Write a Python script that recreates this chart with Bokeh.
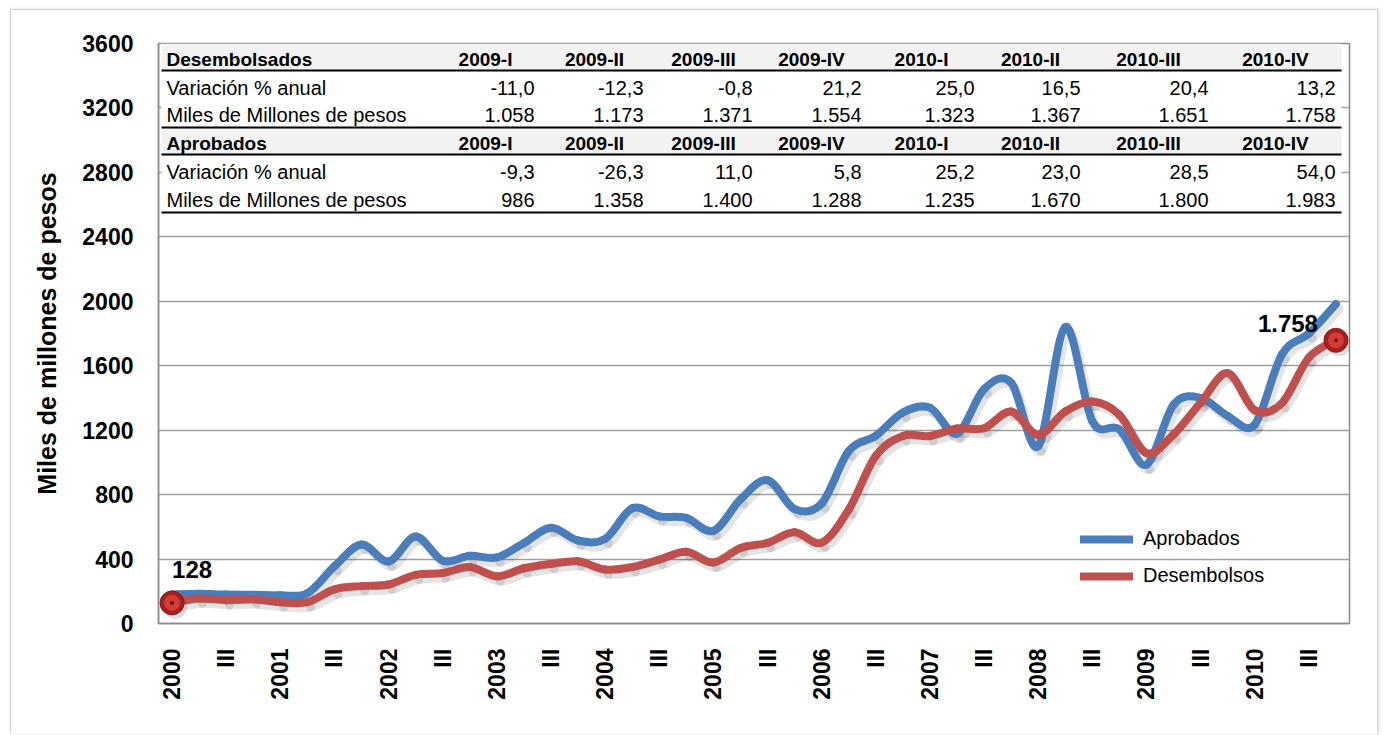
import math
from bokeh.plotting import figure
from bokeh.models import Range1d, FixedTicker, Legend, LegendItem, ColumnDataSource
from bokeh.core.properties import value
from bokeh.embed import file_html
from bokeh.resources import INLINE

# ---------------- data ----------------
x_tick_labels = ["2000", "III", "2001", "III", "2002", "III", "2003", "III",
                 "2004", "III", "2005", "III", "2006", "III", "2007", "III",
                 "2008", "III", "2009", "III", "2010", "III"]

# quarterly values 2000-I ... 2010-IV (miles de millones de pesos)
aprobados = [180, 185, 180, 178, 175, 188, 355, 490, 385, 540, 390, 420,
             410, 500, 595, 515, 525, 715, 665, 655, 575, 770, 890, 710,
             745, 1070, 1165, 1310, 1340, 1180, 1455, 1495, 1100, 1840, 1255, 1205,
             986, 1358, 1400, 1288, 1235, 1670, 1800, 1983]
desembolsos = [128, 155, 145, 150, 132, 132, 212, 232, 242, 302, 313, 350,
               293, 343, 370, 386, 335, 350, 396, 445, 378, 469, 500, 566,
               502, 707, 1040, 1164, 1164, 1210, 1212, 1316, 1171, 1316, 1378, 1295,
               1058, 1173, 1371, 1554, 1323, 1367, 1651, 1758]

y_ticks = [0, 400, 800, 1200, 1600, 2000, 2400, 2800, 3200, 3600]

table_periods = ["2009-I", "2009-II", "2009-III", "2009-IV",
                 "2010-I", "2010-II", "2010-III", "2010-IV"]
desemb_var = [-11.0, -12.3, -0.8, 21.2, 25.0, 16.5, 20.4, 13.2]
desemb_miles = [1058, 1173, 1371, 1554, 1323, 1367, 1651, 1758]
aprob_var = [-9.3, -26.3, 11.0, 5.8, 25.2, 23.0, 28.5, 54.0]
aprob_miles = [986, 1358, 1400, 1288, 1235, 1670, 1800, 1983]

# ---------------- helpers ----------------
FONT = "Liberation Sans"
BLUE = "#4A7EBB"
RED = "#C0504D"


def fmt_var(v):
    return f"{v:.1f}".replace(".", ",")


def fmt_miles(v):
    return f"{v:,}".replace(",", ".")


def smooth(xs, ys):
    n = len(xs)
    d = dict(x0=[], y0=[], x1=[], y1=[], cx0=[], cy0=[], cx1=[], cy1=[])
    for i in range(n - 1):
        a = max(i - 1, 0)
        b = min(i + 2, n - 1)
        d["x0"].append(xs[i]); d["y0"].append(ys[i])
        d["x1"].append(xs[i + 1]); d["y1"].append(ys[i + 1])
        d["cx0"].append(xs[i] + (xs[i + 1] - xs[a]) / 6.0)
        d["cy0"].append(ys[i] + (ys[i + 1] - ys[a]) / 6.0)
        d["cx1"].append(xs[i + 1] - (xs[b] - xs[i]) / 6.0)
        d["cy1"].append(ys[i + 1] - (ys[b] - ys[i]) / 6.0)
    return d


n = len(aprobados)
xs = list(range(n))
XR = (-0.5, n - 0.5)
YR = (y_ticks[0], y_ticks[-1])

# page-pixel geometry of the plot frame (used only to place the table)
FL, FR, FT, FB = 158, 1349, 43, 623
OX, OY = 11, 10   # page position of the figure canvas (margin + 1px border)


def dx(px):
    return XR[0] + (px - FL) / (FR - FL) * (XR[1] - XR[0])


def dy(py):
    return YR[0] + (FB - py) / (FB - FT) * (YR[1] - YR[0])


W, H = 1368, 725
p = figure(width=W, height=H, output_backend="svg", toolbar_location=None,
           x_range=Range1d(*XR), y_range=Range1d(*YR),
           min_border_left=FL - OX, min_border_top=FT - OY,
           min_border_right=W - (FR - OX), min_border_bottom=H - (FB - OY))
p.background_fill_color = "white"
p.border_fill_color = "white"
p.outline_line_color = "#8C8C8C"
p.outline_line_width = 1.5
p.styles = {"border-top": "1px solid #D6D6D6", "border-left": "1px solid #D6D6D6",
            "border-right": "1px solid #D6D6D6", "border-bottom": "1px solid white",
            "margin-left": "10px", "margin-top": "9px",
            "box-shadow": "1px 0px 3px rgba(0,0,0,0.15)"}

# axes
p.xaxis.ticker = FixedTicker(ticks=[2 * i for i in range(len(x_tick_labels))])
p.xaxis.major_label_overrides = {2 * i: t for i, t in enumerate(x_tick_labels)}
p.xaxis.major_label_orientation = math.pi / 2
p.xaxis.major_label_text_font = FONT
p.xaxis.major_label_text_font_style = "bold"
p.xaxis.major_label_text_font_size = "23px"
p.xaxis.major_label_text_color = "black"
p.xaxis.major_label_standoff = 19
p.xaxis.major_tick_line_color = None
p.xaxis.minor_tick_line_color = None
p.xaxis.axis_line_color = "#8C8C8C"
p.xaxis.axis_line_width = 1.5

p.yaxis.ticker = FixedTicker(ticks=y_ticks)
p.yaxis.major_label_text_font = FONT
p.yaxis.major_label_text_font_style = "bold"
p.yaxis.major_label_text_font_size = "23px"
p.yaxis.major_label_text_color = "black"
p.yaxis.major_label_standoff = 19
p.yaxis.major_tick_line_color = None
p.yaxis.minor_tick_line_color = None
p.yaxis.axis_line_color = "#8C8C8C"
p.yaxis.axis_line_width = 1.5
p.yaxis.axis_label = "Miles de millones de pesos"
p.yaxis.axis_label_text_font = FONT
p.yaxis.axis_label_text_font_style = "bold"
p.yaxis.axis_label_text_font_size = "25px"
p.yaxis.axis_label_text_color = "black"
p.yaxis.axis_label_standoff = 18

p.xgrid.visible = False
p.ygrid.ticker = FixedTicker(ticks=y_ticks)
p.ygrid.grid_line_color = "#A0A0A0"
p.ygrid.grid_line_width = 1.5

# ---------------- lines ----------------
sh_dx, sh_dy = 0.12, -30
for ys in (aprobados, desembolsos):
    d = smooth([x + sh_dx for x in xs], [y + sh_dy for y in ys])
    p.bezier(source=ColumnDataSource(d), x0="x0", y0="y0", x1="x1", y1="y1",
             cx0="cx0", cy0="cy0", cx1="cx1", cy1="cy1",
             line_color="black", line_alpha=0.10, line_width=9, line_cap="round")

r_ap = p.bezier(source=ColumnDataSource(smooth(xs, aprobados)),
                x0="x0", y0="y0", x1="x1", y1="y1", cx0="cx0", cy0="cy0", cx1="cx1", cy1="cy1",
                line_color=BLUE, line_width=8, line_cap="round")
r_de = p.bezier(source=ColumnDataSource(smooth(xs, desembolsos)),
                x0="x0", y0="y0", x1="x1", y1="y1", cx0="cx0", cy0="cy0", cx1="cx1", cy1="cy1",
                line_color=RED, line_width=8, line_cap="round")

# end point balls
bx = [xs[0], xs[-1]]
by = [desembolsos[0], desembolsos[-1]]
p.scatter([x + 0.12 for x in bx], [y - 25 for y in by], size=24, fill_color="black",
          fill_alpha=0.12, line_color=None)
p.scatter(bx, by, size=24, fill_color="#A51F1C", line_color="#8A1715", line_width=1)
p.scatter(bx, by, size=16, fill_color="#D4403A", fill_alpha=0.9, line_color=None)
p.scatter(bx, by, size=4, fill_color="#7A1212", line_color=None)

p.text(x=[xs[0]], y=[desembolsos[0]], text=[fmt_miles(desembolsos[0])],
       x_offset=0, y_offset=-33, text_font=value(FONT), text_font_style="bold",
       text_font_size="24px", text_align="left", text_baseline="middle", text_color="black")
p.text(x=[xs[-1]], y=[desembolsos[-1]], text=[fmt_miles(desembolsos[-1])],
       x_offset=-18, y_offset=-17, text_font=value(FONT), text_font_style="bold",
       text_font_size="24px", text_align="right", text_baseline="middle", text_color="black")

# ---------------- legend ----------------
legend = Legend(items=[LegendItem(label="Aprobados", renderers=[r_ap]),
                       LegendItem(label="Desembolsos", renderers=[r_de])],
                location=(1080 - FL, FB - 587), orientation="vertical",
                border_line_color=None, background_fill_alpha=0,
                label_text_font=FONT, label_text_font_size="20px", label_text_color="black",
                glyph_width=53, glyph_height=20, label_height=20, spacing=14,
                padding=0, margin=0, label_standoff=10)
p.add_layout(legend)

# ---------------- table ----------------
TL, TR = 161, 1341
lines_y = [42, 70, 127, 154, 212]
p.quad(left=[dx(TL)], right=[dx(TR)], top=[dy(42)], bottom=[dy(212)],
       fill_color="white", line_color=None)
p.quad(left=[dx(TL)] * 2, right=[dx(TR)] * 2, top=[dy(42), dy(127)], bottom=[dy(70), dy(154)],
       fill_color="#F2F2F2", line_color=None)
p.segment(x0=[dx(TL)] * len(lines_y), x1=[dx(TR)] * len(lines_y),
          y0=[dy(v) for v in lines_y], y1=[dy(v) for v in lines_y],
          line_color="black", line_width=2.2)

head_cx = [485, 594, 703, 811, 921, 1030, 1148, 1275]
val_rx = [534, 643, 752, 861, 974, 1080, 1208, 1335]
blocks = [("Desembolsados", 59, 87, 114, desemb_var, desemb_miles),
          ("Aprobados", 143, 171, 199, aprob_var, aprob_miles)]
for title, yh, yv, ym, var, miles in blocks:
    p.text(x=[dx(166)], y=[dy(yh)], text=[title], text_font=value(FONT),
           text_font_style="bold", text_font_size="19px", text_align="left",
           text_baseline="middle", text_color="black")
    p.text(x=[dx(c) for c in head_cx], y=[dy(yh)] * len(table_periods), text=table_periods,
           text_font=value(FONT), text_font_style="bold", text_font_size="19px",
           text_align="center", text_baseline="middle", text_color="black")
    p.text(x=[dx(166), dx(166)], y=[dy(yv), dy(ym)],
           text=["Variación % anual", "Miles de Millones de pesos"],
           text_font=value(FONT), text_font_size="20px", text_align="left",
           text_baseline="middle", text_color="black")
    p.text(x=[dx(c) for c in val_rx], y=[dy(yv)] * len(var), text=[fmt_var(v) for v in var],
           text_font=value(FONT), text_font_size="20px", text_align="right",
           text_baseline="middle", text_color="black")
    p.text(x=[dx(c) for c in val_rx], y=[dy(ym)] * len(miles), text=[fmt_miles(v) for v in miles],
           text_font=value(FONT), text_font_size="20px", text_align="right",
           text_baseline="middle", text_color="black")

open("out.html", "w").write(file_html(p, INLINE))
